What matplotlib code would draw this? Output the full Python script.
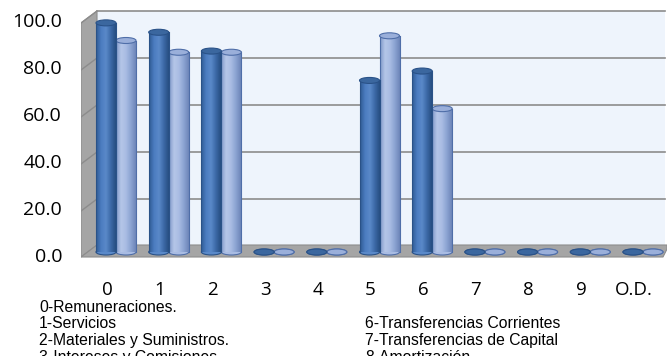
import numpy as np
import matplotlib
matplotlib.use("Agg")
import matplotlib.pyplot as plt
from matplotlib.patches import Polygon, Ellipse
from matplotlib.colors import LinearSegmentedColormap

categories = ["0", "1", "2", "3", "4", "5", "6", "7", "8", "9", "O.D."]
series_a = [97.5, 93.5, 85.5, 0, 0, 73, 77, 0, 0, 0, 0]
series_b = [90, 85, 85, 0, 0, 92, 61, 0, 0, 0, 0]
yticks = [0, 20, 40, 60, 80, 100]
notes_left = ["0-Remuneraciones.", "1-Servicios", "2-Materiales y Suministros.", "3-Intereses y Comisiones"]
notes_right = ["6-Transferencias Corrientes", "7-Transferencias de Capital", "8-Amortización"]

W, H = 667, 356
fig = plt.figure(figsize=(W / 100, H / 100), dpi=100)

# pixel geometry
X0PX, XSTEP = 116.0, 52.7
Y0PX, YSCALE = 252.0, 2.35
ax_left_px, ax_right_px, ax_top_px, ax_bot_px = 81, 667, 8, 262
ax = fig.add_axes([ax_left_px / W, 1 - ax_bot_px / H,
                   (ax_right_px - ax_left_px) / W, (ax_bot_px - ax_top_px) / H])

def px2x(p):
    return (p - X0PX) / XSTEP

def px2y(p):
    return (Y0PX - p) / YSCALE

ax.set_xlim(px2x(ax_left_px), px2x(ax_right_px))
ax.set_ylim(px2y(ax_bot_px), px2y(ax_top_px))
ax.axis("off")

# back wall
back = Polygon([(px2x(97), px2y(245)), (px2x(665), px2y(245)),
                (px2x(665), px2y(11)), (px2x(97), px2y(11))],
               closed=True, facecolor="#EEF4FC", edgecolor="none", zorder=0)
ax.add_patch(back)
# left wall
left = Polygon([(px2x(81), px2y(257)), (px2x(97), px2y(245)),
                (px2x(97), px2y(11)), (px2x(81), px2y(23))],
               closed=True, facecolor="#A5A5A5", edgecolor="#8C8C8C", lw=0.8, zorder=1)
ax.add_patch(left)
# floor
floor = Polygon([(px2x(81), px2y(257)), (px2x(97), px2y(245)),
                 (px2x(667), px2y(245)), (px2x(667), px2y(249)), (px2x(663), px2y(257))],
                closed=True, facecolor="#A5A5A5", edgecolor="#8C8C8C", lw=0.8, zorder=1)
ax.add_patch(floor)
# gridlines on back wall and left wall
depth = 6 / YSCALE
for v in yticks[1:]:
    ax.plot([px2x(97), px2x(665)], [v + depth, v + depth], color="#8C8C8C", lw=1.2, zorder=1)
    ax.plot([px2x(81), px2x(97)], [v - depth, v + depth], color="#8C8C8C", lw=1.0, zorder=1.5)

x = np.arange(len(categories))
bw = 20 / XSTEP
cap_h = 6 / YSCALE

cmap_a = LinearSegmentedColormap.from_list("a", ["#2F5A93", "#4B7CC0", "#5A89C9", "#3C69A6", "#274E82"])
cmap_b = LinearSegmentedColormap.from_list("b", ["#7F98C8", "#B5C6E8", "#A9BCE3", "#8BA3D2", "#6D86B8"])
grad = np.linspace(0, 1, 64).reshape(1, -1)

def draw_bars(xs, vals, cmap, top_col, edge_col, z):
    bars = ax.bar(xs, vals, width=bw, bottom=0, color="none", edgecolor="none", zorder=z)
    for b, v in zip(bars, vals):
        x0 = b.get_x()
        xc = x0 + bw / 2
        ax.add_patch(Ellipse((xc, 0), bw, cap_h, facecolor=cmap(0.5), edgecolor=edge_col, lw=0.8, zorder=z))
        if v > 0:
            im = ax.imshow(grad, extent=[x0, x0 + bw, 0, v], aspect="auto", cmap=cmap, zorder=z + 0.1,
                           interpolation="bilinear")
            im.set_clip_path(b)
            ax.plot([x0, x0], [0, v], color=edge_col, lw=0.8, zorder=z + 0.2)
            ax.plot([x0 + bw, x0 + bw], [0, v], color=edge_col, lw=0.8, zorder=z + 0.2)
        ax.add_patch(Ellipse((xc, v), bw, cap_h, facecolor=top_col, edgecolor=edge_col, lw=0.8, zorder=z + 0.3))

draw_bars(x + bw / 2, series_b, cmap_b, "#9AAFDA", "#4F6EA8", 3)
draw_bars(x - bw / 2, series_a, cmap_a, "#3B679F", "#2A5288", 4)

ax.set_xlim(px2x(ax_left_px), px2x(ax_right_px))
ax.set_ylim(px2y(ax_bot_px), px2y(ax_top_px))

font = "Open Sans"
for v in yticks:
    fig.text(62 / W, 1 - (257 - 2.35 * v) / H, f"{v:.1f}", ha="right", va="center",
             fontsize=14, family=font, color="#000000")
for i, c in enumerate(categories):
    fig.text((X0PX + XSTEP * i - 9) / W, 1 - 290 / H, c, ha="center", va="center",
             fontsize=13.5, family=font, color="#000000")

ys = [308, 324, 341, 358]
for t, yy in zip(notes_left, ys):
    fig.text(39 / W, 1 - yy / H, t, ha="left", va="center", fontsize=11.3, family="Liberation Sans")
for t, yy in zip(notes_right, ys[1:]):
    fig.text(365 / W, 1 - yy / H, t, ha="left", va="center", fontsize=11.3, family="Liberation Sans")

fig.savefig("out.png", dpi=100)
